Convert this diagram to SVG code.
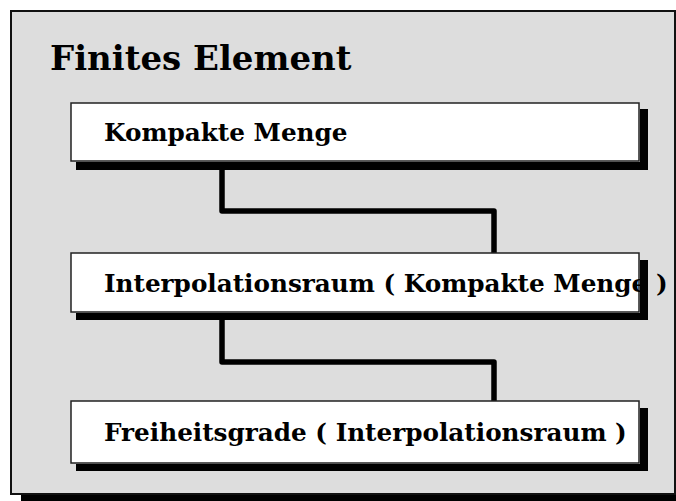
<svg xmlns="http://www.w3.org/2000/svg" width="676" height="501" viewBox="0 0 676 501">
<style>
.frame{fill:#dddddd;stroke:#111;stroke-width:2}
.box{fill:#ffffff;stroke:#222;stroke-width:1.5}
.shadow{fill:#000}
.title{font-family:"DejaVu Serif",serif;font-weight:bold;font-size:34px;fill:#000}
.label{font-family:"DejaVu Serif",serif;font-weight:bold;font-size:24.7px;fill:#000}
.conn{fill:none;stroke:#000;stroke-width:5.5;stroke-linejoin:round}
</style>
<rect class="shadow" x="21" y="21" width="660" height="485"/>
<rect class="frame" x="11" y="11" width="664" height="483"/>
<text class="title" x="50" y="70">Finites Element</text>
<g id="connectors">
<path class="conn" d="M222 165 V211 H494 V253"/>
<path class="conn" d="M222 318 V362 H494 V401"/>
</g>
<g id="node1">
<rect class="box" x="71" y="103" width="568" height="58"/>
<text class="label" x="104" y="141">Kompakte Menge</text>
<path class="shadow" d="M640 109 H648 V170 H76 V162 H640 Z"/>
</g>
<g id="node2">
<rect class="box" x="71" y="253" width="568" height="59"/>
<text class="label" x="104" y="292">Interpolationsraum ( Kompakte Menge )</text>
<path class="shadow" d="M640 260 H648 V320 H76 V313 H640 Z"/>
</g>
<g id="node3">
<rect class="box" x="71" y="401" width="568" height="62"/>
<text class="label" x="104" y="441">Freiheitsgrade ( Interpolationsraum )</text>
<path class="shadow" d="M640 408 H648 V471 H76 V464 H640 Z"/>
</g>
</svg>
